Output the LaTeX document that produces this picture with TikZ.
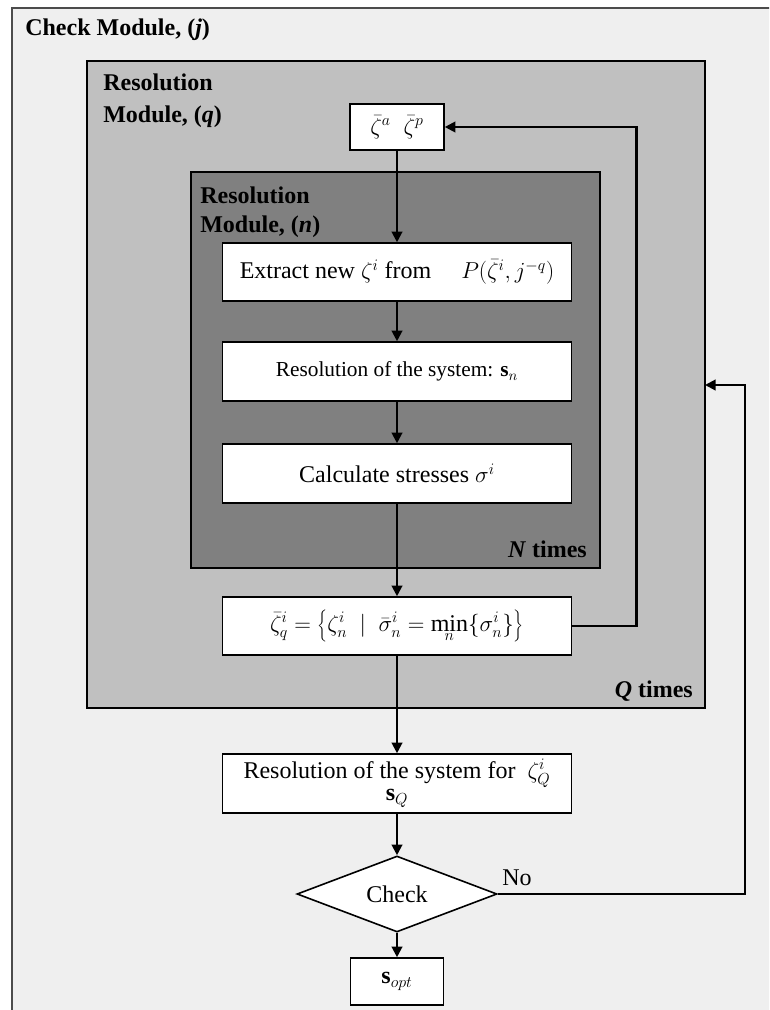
\documentclass[tikz,border=0pt]{standalone}
\usepackage{fontspec}
\setmainfont{Liberation Serif}
\usetikzlibrary{arrows.meta,shapes.geometric}
\definecolor{outerbg}{HTML}{EFEFEF}
\definecolor{qbg}{HTML}{C0C0C0}
\definecolor{nbg}{HTML}{808080}
\begin{document}
\begin{tikzpicture}[x=0.75pt,y=-0.75pt,
 box/.style={draw=black, fill=white, line width=1.2pt, inner sep=0pt, align=center, font=\fontsize{18}{20}\selectfont},
 flow/.style={line width=1.6pt, -{Triangle[length=8pt,width=8pt]}},
 head/.style={anchor=base west, inner sep=0pt, font=\fontsize{18}{24}\selectfont\bfseries, align=left},
 module/.style={line width=1.2pt, draw=black},
 ]
\useasboundingbox (0,0) rectangle (769,1010);
\clip (0,0) rectangle (769,1010);
% outer module
\path[fill=outerbg, draw=black!70, line width=1.5pt] (12,8) rectangle (790,1030);
\node[head] (tj) at (25,35) {Check Module, (\textit{j})};
% Q module
\path[module, fill=qbg] (87,61) rectangle (705,708);
\node[head] (tq1) at (103,90) {Resolution};
\node[head] (tq2) at (103,122) {Module, (\textit{q})};
\node[head, anchor=base east] (qt) at (693,697) {\textit{Q} times};
% N module
\path[module, fill=nbg] (191,172) rectangle (600,568);
\node[head] (tn1) at (200,203) {Resolution};
\node[head] (tn2) at (200,232) {Module, (\textit{n})};
\node[head, anchor=base east] (nt) at (587,557) {\textit{N} times};
\coordinate (qe) at (705,385);
% boxes
\node[box, minimum width=70.5pt, minimum height=34.5pt] (top) at (397,127) {$\bar\zeta^{a}\;\;\bar\zeta^{p}$};
\node[box, minimum width=262pt, minimum height=43.5pt] (ext) at (397,272) {Extract new $\zeta^{i}$ from \quad $P\Bigl(\bar\zeta^{i}, j^{-q}\Bigr)$};
\node[box, minimum width=262pt, minimum height=44.25pt, font=\fontsize{16}{18}\selectfont] (sys) at (397,371.5) {Resolution of the system: $\mathbf{s}_{n}$};
\node[box, minimum width=262pt, minimum height=44.25pt] (calc) at (397,473.5) {Calculate stresses $\sigma^{i}$};
\node[box, minimum width=262pt, minimum height=43.5pt] (zq) at (397,626) {$\displaystyle\bar\zeta^{i}_{q}=\biggl\{\zeta^{i}_{n}\ \mid\ \bar\sigma^{i}_{n}=\min_{n}\Bigl\{\sigma^{i}_{n}\Bigr\}\biggr\}$};
\node[box, minimum width=262pt, minimum height=44.25pt, font=\fontsize{18}{17}\selectfont] (resq) at (397,783.5) {Resolution of the system for \ $\zeta^{i}_{Q}$\\$\mathbf{s}_{Q}$};
\node[box, shape=diamond, aspect=2.6, minimum width=150pt, minimum height=57pt] (chk) at (397,894) {Check};
\node[box, minimum width=69.75pt, minimum height=35.25pt] (sopt) at (397,981.5) {$\mathbf{s}_{opt}$};
% connectors
\draw[flow] (top) -- (ext);
\draw[flow] (ext) -- (sys);
\draw[flow] (sys) -- (calc);
\draw[flow] (calc) -- (zq);
\draw[flow] (zq) -- (resq);
\draw[flow] (resq) -- (chk);
\draw[flow] (chk) -- (sopt);
\draw[flow] (zq.east) -- ++(64,0) |- (top.east);
\draw[flow] (chk.east) -- ++(247,0) |- (qe);
\node[anchor=base west, inner sep=0pt, font=\fontsize{18}{20}\selectfont] (no) at (502,885) {No};
\end{tikzpicture}
\end{document}
